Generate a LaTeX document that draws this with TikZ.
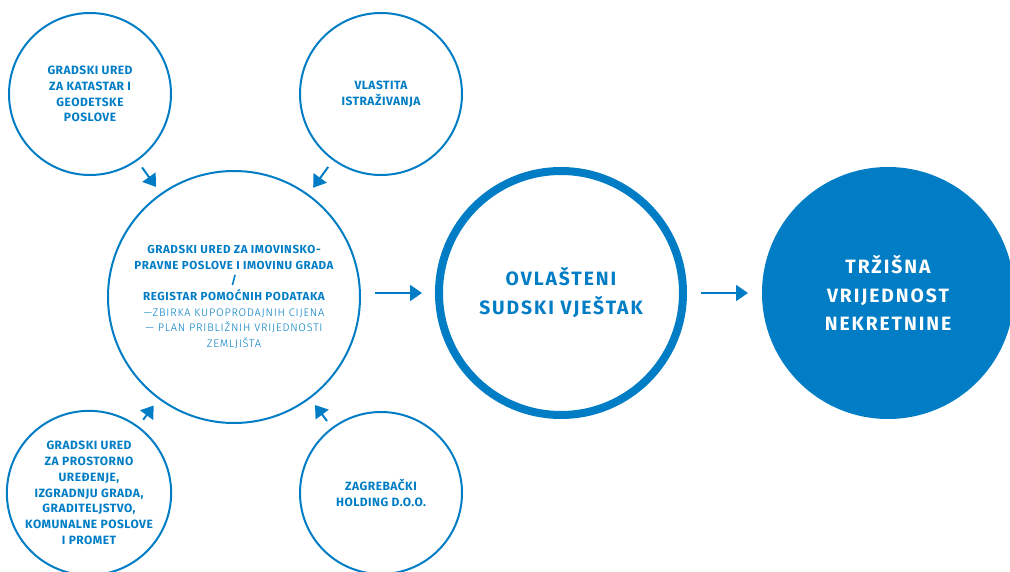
\documentclass[tikz,border=0pt]{standalone}
\usepackage{fontspec}
\setmainfont{Fira Sans}
\newfontfamily\smallfont{Fira Sans}[LetterSpace=4]
\newfontfamily\hubfont{Fira Sans}[LetterSpace=5]
\newfontfamily\lightfont{Fira Sans Light}[LetterSpace=7]
\newfontfamily\bigfont{Fira Sans}[LetterSpace=10]
\usetikzlibrary{arrows.meta}
\definecolor{zgblue}{RGB}{0,125,197}

\begin{document}
\begin{tikzpicture}[
            x = 1pt, y = -1pt, % pixel units, y runs down
            > = {Triangle[length=12pt, width=16pt]}, % arrow head style
            line width = 2pt,
            draw = zgblue
        ]

        \tikzstyle{source}=[
            circle,
            draw = zgblue,
            line width = 2pt,
            minimum size = 162pt,
            inner sep = 0pt,
            text = zgblue,
            align = center,
            font = \smallfont\bfseries\fontsize{12}{15.8}\selectfont
        ]
        \tikzstyle{hub}=[
            source,
            minimum size = 252pt,
            font = \hubfont\bfseries\fontsize{11.6}{15.7}\selectfont
        ]
        \tikzstyle{expert}=[
            source,
            line width = 8pt,
            minimum size = 244pt,
            font = \bigfont\bfseries\fontsize{19.3}{29}\selectfont
        ]
        \tikzstyle{result}=[
            circle,
            fill = zgblue,
            minimum size = 252pt,
            inner sep = 0pt,
            text = white,
            align = center,
            font = \bigfont\bfseries\fontsize{19.3}{28.5}\selectfont
        ]
        \tikzstyle{feed}=[->, zgblue, shorten < = 8pt, shorten > = 8pt]
        \tikzstyle{flow}=[->, zgblue, shorten < = 14pt, shorten > = 13pt]

        \useasboundingbox (0,0) rectangle (1010,572);

        \node[hub] (ured) at (234,297) {GRADSKI URED ZA IMOVINSKO-\\
            PRAVNE POSLOVE I IMOVINU GRADA\\
            /\\
            REGISTAR POMOĆNIH PODATAKA\\
            {\lightfont\mdseries\fontsize{11}{15.7}\selectfont —ZBIRKA KUPOPRODAJNIH CIJENA}\\
            {\lightfont\mdseries\fontsize{11}{15.7}\selectfont — PLAN PRIBLIŽNIH VRIJEDNOSTI}\\
            {\lightfont\mdseries\fontsize{11}{15.7}\selectfont ZEMLJIŠTA}};

        \node[source] (katastar) at (90,94) {GRADSKI URED\\ ZA KATASTAR I\\ GEODETSKE\\ POSLOVE};
        \node[source] (vlastita) at (381,94) {VLASTITA\\ ISTRAŽIVANJA};
        \node[source] (prostor) at (89,493) {GRADSKI URED\\ ZA PROSTORNO\\ UREĐENJE,\\
            IZGRADNJU GRADA,\\ GRADITELJSTVO,\\ KOMUNALNE POSLOVE\\ I PROMET};
        \node[source] (holding) at (381,493) {ZAGREBAČKI\\ HOLDING D.O.O.};

        \node[expert] (vjestak) at (561,293) {OVLAŠTENI\\ SUDSKI VJEŠTAK};
        \node[result] (vrijednost) at (888,293) {TRŽIŠNA\\ VRIJEDNOST\\ NEKRETNINE};

        \draw[feed] (katastar) -- (ured);
        \draw[feed] (vlastita) -- (ured);
        \draw[feed] (prostor) -- (ured);
        \draw[feed] (holding) -- (ured);

        \draw[flow] (ured.east |- vjestak.west) -- (vjestak.west);
        \draw[flow] (vjestak) -- (vrijednost);

    \end{tikzpicture}
\end{document}
